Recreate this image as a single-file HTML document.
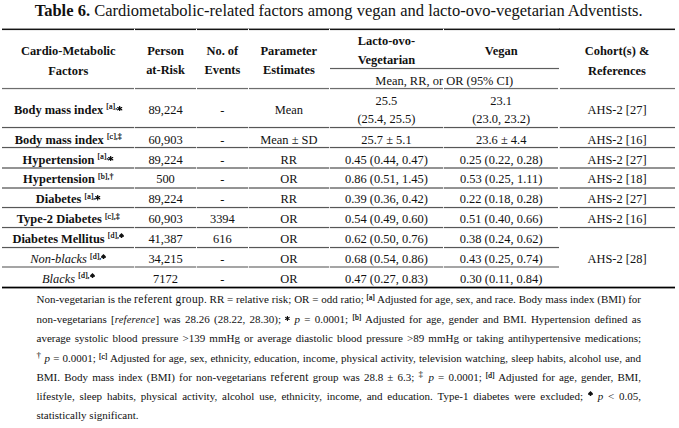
<!DOCTYPE html>
<html><head><meta charset="utf-8"><style>
html,body{margin:0;padding:0;background:#fff;}
body{width:679px;height:428px;position:relative;overflow:hidden;font-family:"Liberation Serif", serif;color:#111;}
.ln{position:absolute;height:1px;}
.t{position:absolute;line-height:20px;white-space:nowrap;}
.sup{font-size:8px;position:relative;top:-4.5px;color:#000;-webkit-text-stroke:0.2px #000;font-weight:normal;font-style:normal;}
.fsup{font-size:7.5px;position:relative;top:-3px;color:#000;-webkit-text-stroke:0.2px #000;}
.fsym{font-size:9px;position:relative;top:-3.5px;color:#000;}
.ref{font-size:11.5px;letter-spacing:0.32px;}
.refi{font-size:10.5px;letter-spacing:0.2px;}
</style></head><body>
<div class="t" style="left:34.70px;top:1.20px;text-align:left;font-size:16.5px;font-weight:normal;font-style:normal;"><b>Table 6.</b> Cardiometabolic-related factors among vegan and lacto-ovo-vegetarian Adventists.</div>
<div class="ln" style="left:2.00px;width:132.10px;top:28px;background:rgba(0,0,0,0.40)"></div>
<div class="ln" style="left:2.00px;width:132.10px;top:29px;background:rgba(0,0,0,0.92)"></div>
<div class="ln" style="left:2.00px;width:132.10px;top:30px;background:rgba(0,0,0,0.08)"></div>
<div class="ln" style="left:134.90px;width:61.20px;top:28px;background:rgba(0,0,0,0.40)"></div>
<div class="ln" style="left:134.90px;width:61.20px;top:29px;background:rgba(0,0,0,0.92)"></div>
<div class="ln" style="left:134.90px;width:61.20px;top:30px;background:rgba(0,0,0,0.08)"></div>
<div class="ln" style="left:196.90px;width:50.90px;top:28px;background:rgba(0,0,0,0.40)"></div>
<div class="ln" style="left:196.90px;width:50.90px;top:29px;background:rgba(0,0,0,0.92)"></div>
<div class="ln" style="left:196.90px;width:50.90px;top:30px;background:rgba(0,0,0,0.08)"></div>
<div class="ln" style="left:248.60px;width:80.50px;top:28px;background:rgba(0,0,0,0.40)"></div>
<div class="ln" style="left:248.60px;width:80.50px;top:29px;background:rgba(0,0,0,0.92)"></div>
<div class="ln" style="left:248.60px;width:80.50px;top:30px;background:rgba(0,0,0,0.08)"></div>
<div class="ln" style="left:329.90px;width:113.10px;top:28px;background:rgba(0,0,0,0.40)"></div>
<div class="ln" style="left:329.90px;width:113.10px;top:29px;background:rgba(0,0,0,0.92)"></div>
<div class="ln" style="left:329.90px;width:113.10px;top:30px;background:rgba(0,0,0,0.08)"></div>
<div class="ln" style="left:443.80px;width:114.80px;top:28px;background:rgba(0,0,0,0.40)"></div>
<div class="ln" style="left:443.80px;width:114.80px;top:29px;background:rgba(0,0,0,0.92)"></div>
<div class="ln" style="left:443.80px;width:114.80px;top:30px;background:rgba(0,0,0,0.08)"></div>
<div class="ln" style="left:559.40px;width:115.60px;top:28px;background:rgba(0,0,0,0.40)"></div>
<div class="ln" style="left:559.40px;width:115.60px;top:29px;background:rgba(0,0,0,0.92)"></div>
<div class="ln" style="left:559.40px;width:115.60px;top:30px;background:rgba(0,0,0,0.08)"></div>
<div class="ln" style="left:134.10px;width:0.80px;top:28px;background:rgba(0,0,0,0.30)"></div>
<div class="ln" style="left:196.10px;width:0.80px;top:28px;background:rgba(0,0,0,0.30)"></div>
<div class="ln" style="left:247.80px;width:0.80px;top:28px;background:rgba(0,0,0,0.30)"></div>
<div class="ln" style="left:329.10px;width:0.80px;top:28px;background:rgba(0,0,0,0.30)"></div>
<div class="ln" style="left:443.00px;width:0.80px;top:28px;background:rgba(0,0,0,0.30)"></div>
<div class="ln" style="left:558.60px;width:0.80px;top:28px;background:rgba(0,0,0,0.30)"></div>
<div class="ln" style="left:330.00px;width:229.00px;top:67px;background:rgba(40,40,40,0.06)"></div>
<div class="ln" style="left:330.00px;width:229.00px;top:68px;background:rgba(40,40,40,0.75)"></div>
<div class="ln" style="left:330.00px;width:229.00px;top:69px;background:rgba(40,40,40,0.08)"></div>
<div class="ln" style="left:2.00px;width:132.00px;top:87px;background:rgba(40,40,40,0.05)"></div>
<div class="ln" style="left:2.00px;width:132.00px;top:88px;background:rgba(40,40,40,0.68)"></div>
<div class="ln" style="left:2.00px;width:132.00px;top:89px;background:rgba(40,40,40,0.10)"></div>
<div class="ln" style="left:135.00px;width:61.00px;top:87px;background:rgba(40,40,40,0.05)"></div>
<div class="ln" style="left:135.00px;width:61.00px;top:88px;background:rgba(40,40,40,0.68)"></div>
<div class="ln" style="left:135.00px;width:61.00px;top:89px;background:rgba(40,40,40,0.10)"></div>
<div class="ln" style="left:197.00px;width:50.70px;top:87px;background:rgba(40,40,40,0.05)"></div>
<div class="ln" style="left:197.00px;width:50.70px;top:88px;background:rgba(40,40,40,0.68)"></div>
<div class="ln" style="left:197.00px;width:50.70px;top:89px;background:rgba(40,40,40,0.10)"></div>
<div class="ln" style="left:248.70px;width:80.30px;top:87px;background:rgba(40,40,40,0.05)"></div>
<div class="ln" style="left:248.70px;width:80.30px;top:88px;background:rgba(40,40,40,0.68)"></div>
<div class="ln" style="left:248.70px;width:80.30px;top:89px;background:rgba(40,40,40,0.10)"></div>
<div class="ln" style="left:330.00px;width:112.90px;top:87px;background:rgba(40,40,40,0.05)"></div>
<div class="ln" style="left:330.00px;width:112.90px;top:88px;background:rgba(40,40,40,0.68)"></div>
<div class="ln" style="left:330.00px;width:112.90px;top:89px;background:rgba(40,40,40,0.10)"></div>
<div class="ln" style="left:443.90px;width:114.60px;top:87px;background:rgba(40,40,40,0.05)"></div>
<div class="ln" style="left:443.90px;width:114.60px;top:88px;background:rgba(40,40,40,0.68)"></div>
<div class="ln" style="left:443.90px;width:114.60px;top:89px;background:rgba(40,40,40,0.10)"></div>
<div class="ln" style="left:559.50px;width:115.50px;top:87px;background:rgba(40,40,40,0.05)"></div>
<div class="ln" style="left:559.50px;width:115.50px;top:88px;background:rgba(40,40,40,0.68)"></div>
<div class="ln" style="left:559.50px;width:115.50px;top:89px;background:rgba(40,40,40,0.10)"></div>
<div class="ln" style="left:2.00px;width:132.00px;top:126px;background:rgba(40,40,40,0.06)"></div>
<div class="ln" style="left:2.00px;width:132.00px;top:127px;background:rgba(40,40,40,0.78)"></div>
<div class="ln" style="left:2.00px;width:132.00px;top:128px;background:rgba(40,40,40,0.10)"></div>
<div class="ln" style="left:135.00px;width:61.00px;top:126px;background:rgba(40,40,40,0.06)"></div>
<div class="ln" style="left:135.00px;width:61.00px;top:127px;background:rgba(40,40,40,0.78)"></div>
<div class="ln" style="left:135.00px;width:61.00px;top:128px;background:rgba(40,40,40,0.10)"></div>
<div class="ln" style="left:197.00px;width:50.70px;top:126px;background:rgba(40,40,40,0.06)"></div>
<div class="ln" style="left:197.00px;width:50.70px;top:127px;background:rgba(40,40,40,0.78)"></div>
<div class="ln" style="left:197.00px;width:50.70px;top:128px;background:rgba(40,40,40,0.10)"></div>
<div class="ln" style="left:248.70px;width:80.30px;top:126px;background:rgba(40,40,40,0.06)"></div>
<div class="ln" style="left:248.70px;width:80.30px;top:127px;background:rgba(40,40,40,0.78)"></div>
<div class="ln" style="left:248.70px;width:80.30px;top:128px;background:rgba(40,40,40,0.10)"></div>
<div class="ln" style="left:330.00px;width:112.90px;top:126px;background:rgba(40,40,40,0.06)"></div>
<div class="ln" style="left:330.00px;width:112.90px;top:127px;background:rgba(40,40,40,0.78)"></div>
<div class="ln" style="left:330.00px;width:112.90px;top:128px;background:rgba(40,40,40,0.10)"></div>
<div class="ln" style="left:443.90px;width:114.60px;top:126px;background:rgba(40,40,40,0.06)"></div>
<div class="ln" style="left:443.90px;width:114.60px;top:127px;background:rgba(40,40,40,0.78)"></div>
<div class="ln" style="left:443.90px;width:114.60px;top:128px;background:rgba(40,40,40,0.10)"></div>
<div class="ln" style="left:559.50px;width:115.50px;top:126px;background:rgba(40,40,40,0.06)"></div>
<div class="ln" style="left:559.50px;width:115.50px;top:127px;background:rgba(40,40,40,0.78)"></div>
<div class="ln" style="left:559.50px;width:115.50px;top:128px;background:rgba(40,40,40,0.10)"></div>
<div class="ln" style="left:134.00px;width:1.00px;top:126px;background:rgba(40,40,40,0.01)"></div>
<div class="ln" style="left:134.00px;width:1.00px;top:127px;background:rgba(40,40,40,0.20)"></div>
<div class="ln" style="left:134.00px;width:1.00px;top:128px;background:rgba(40,40,40,0.03)"></div>
<div class="ln" style="left:196.00px;width:1.00px;top:126px;background:rgba(40,40,40,0.01)"></div>
<div class="ln" style="left:196.00px;width:1.00px;top:127px;background:rgba(40,40,40,0.20)"></div>
<div class="ln" style="left:196.00px;width:1.00px;top:128px;background:rgba(40,40,40,0.03)"></div>
<div class="ln" style="left:247.70px;width:1.00px;top:126px;background:rgba(40,40,40,0.01)"></div>
<div class="ln" style="left:247.70px;width:1.00px;top:127px;background:rgba(40,40,40,0.20)"></div>
<div class="ln" style="left:247.70px;width:1.00px;top:128px;background:rgba(40,40,40,0.03)"></div>
<div class="ln" style="left:329.00px;width:1.00px;top:126px;background:rgba(40,40,40,0.01)"></div>
<div class="ln" style="left:329.00px;width:1.00px;top:127px;background:rgba(40,40,40,0.20)"></div>
<div class="ln" style="left:329.00px;width:1.00px;top:128px;background:rgba(40,40,40,0.03)"></div>
<div class="ln" style="left:442.90px;width:1.00px;top:126px;background:rgba(40,40,40,0.01)"></div>
<div class="ln" style="left:442.90px;width:1.00px;top:127px;background:rgba(40,40,40,0.20)"></div>
<div class="ln" style="left:442.90px;width:1.00px;top:128px;background:rgba(40,40,40,0.03)"></div>
<div class="ln" style="left:558.50px;width:1.00px;top:126px;background:rgba(40,40,40,0.01)"></div>
<div class="ln" style="left:558.50px;width:1.00px;top:127px;background:rgba(40,40,40,0.20)"></div>
<div class="ln" style="left:558.50px;width:1.00px;top:128px;background:rgba(40,40,40,0.03)"></div>
<div class="ln" style="left:2.00px;width:132.00px;top:146px;background:rgba(40,40,40,0.06)"></div>
<div class="ln" style="left:2.00px;width:132.00px;top:147px;background:rgba(40,40,40,0.78)"></div>
<div class="ln" style="left:2.00px;width:132.00px;top:148px;background:rgba(40,40,40,0.10)"></div>
<div class="ln" style="left:135.00px;width:61.00px;top:146px;background:rgba(40,40,40,0.06)"></div>
<div class="ln" style="left:135.00px;width:61.00px;top:147px;background:rgba(40,40,40,0.78)"></div>
<div class="ln" style="left:135.00px;width:61.00px;top:148px;background:rgba(40,40,40,0.10)"></div>
<div class="ln" style="left:197.00px;width:50.70px;top:146px;background:rgba(40,40,40,0.06)"></div>
<div class="ln" style="left:197.00px;width:50.70px;top:147px;background:rgba(40,40,40,0.78)"></div>
<div class="ln" style="left:197.00px;width:50.70px;top:148px;background:rgba(40,40,40,0.10)"></div>
<div class="ln" style="left:248.70px;width:80.30px;top:146px;background:rgba(40,40,40,0.06)"></div>
<div class="ln" style="left:248.70px;width:80.30px;top:147px;background:rgba(40,40,40,0.78)"></div>
<div class="ln" style="left:248.70px;width:80.30px;top:148px;background:rgba(40,40,40,0.10)"></div>
<div class="ln" style="left:330.00px;width:112.90px;top:146px;background:rgba(40,40,40,0.06)"></div>
<div class="ln" style="left:330.00px;width:112.90px;top:147px;background:rgba(40,40,40,0.78)"></div>
<div class="ln" style="left:330.00px;width:112.90px;top:148px;background:rgba(40,40,40,0.10)"></div>
<div class="ln" style="left:443.90px;width:114.60px;top:146px;background:rgba(40,40,40,0.06)"></div>
<div class="ln" style="left:443.90px;width:114.60px;top:147px;background:rgba(40,40,40,0.78)"></div>
<div class="ln" style="left:443.90px;width:114.60px;top:148px;background:rgba(40,40,40,0.10)"></div>
<div class="ln" style="left:559.50px;width:115.50px;top:146px;background:rgba(40,40,40,0.06)"></div>
<div class="ln" style="left:559.50px;width:115.50px;top:147px;background:rgba(40,40,40,0.78)"></div>
<div class="ln" style="left:559.50px;width:115.50px;top:148px;background:rgba(40,40,40,0.10)"></div>
<div class="ln" style="left:134.00px;width:1.00px;top:146px;background:rgba(40,40,40,0.01)"></div>
<div class="ln" style="left:134.00px;width:1.00px;top:147px;background:rgba(40,40,40,0.20)"></div>
<div class="ln" style="left:134.00px;width:1.00px;top:148px;background:rgba(40,40,40,0.03)"></div>
<div class="ln" style="left:196.00px;width:1.00px;top:146px;background:rgba(40,40,40,0.01)"></div>
<div class="ln" style="left:196.00px;width:1.00px;top:147px;background:rgba(40,40,40,0.20)"></div>
<div class="ln" style="left:196.00px;width:1.00px;top:148px;background:rgba(40,40,40,0.03)"></div>
<div class="ln" style="left:247.70px;width:1.00px;top:146px;background:rgba(40,40,40,0.01)"></div>
<div class="ln" style="left:247.70px;width:1.00px;top:147px;background:rgba(40,40,40,0.20)"></div>
<div class="ln" style="left:247.70px;width:1.00px;top:148px;background:rgba(40,40,40,0.03)"></div>
<div class="ln" style="left:329.00px;width:1.00px;top:146px;background:rgba(40,40,40,0.01)"></div>
<div class="ln" style="left:329.00px;width:1.00px;top:147px;background:rgba(40,40,40,0.20)"></div>
<div class="ln" style="left:329.00px;width:1.00px;top:148px;background:rgba(40,40,40,0.03)"></div>
<div class="ln" style="left:442.90px;width:1.00px;top:146px;background:rgba(40,40,40,0.01)"></div>
<div class="ln" style="left:442.90px;width:1.00px;top:147px;background:rgba(40,40,40,0.20)"></div>
<div class="ln" style="left:442.90px;width:1.00px;top:148px;background:rgba(40,40,40,0.03)"></div>
<div class="ln" style="left:558.50px;width:1.00px;top:146px;background:rgba(40,40,40,0.01)"></div>
<div class="ln" style="left:558.50px;width:1.00px;top:147px;background:rgba(40,40,40,0.20)"></div>
<div class="ln" style="left:558.50px;width:1.00px;top:148px;background:rgba(40,40,40,0.03)"></div>
<div class="ln" style="left:2.00px;width:132.00px;top:167px;background:rgba(40,40,40,0.50)"></div>
<div class="ln" style="left:2.00px;width:132.00px;top:168px;background:rgba(40,40,40,0.50)"></div>
<div class="ln" style="left:135.00px;width:61.00px;top:167px;background:rgba(40,40,40,0.50)"></div>
<div class="ln" style="left:135.00px;width:61.00px;top:168px;background:rgba(40,40,40,0.50)"></div>
<div class="ln" style="left:197.00px;width:50.70px;top:167px;background:rgba(40,40,40,0.50)"></div>
<div class="ln" style="left:197.00px;width:50.70px;top:168px;background:rgba(40,40,40,0.50)"></div>
<div class="ln" style="left:248.70px;width:80.30px;top:167px;background:rgba(40,40,40,0.50)"></div>
<div class="ln" style="left:248.70px;width:80.30px;top:168px;background:rgba(40,40,40,0.50)"></div>
<div class="ln" style="left:330.00px;width:112.90px;top:167px;background:rgba(40,40,40,0.50)"></div>
<div class="ln" style="left:330.00px;width:112.90px;top:168px;background:rgba(40,40,40,0.50)"></div>
<div class="ln" style="left:443.90px;width:114.60px;top:167px;background:rgba(40,40,40,0.50)"></div>
<div class="ln" style="left:443.90px;width:114.60px;top:168px;background:rgba(40,40,40,0.50)"></div>
<div class="ln" style="left:559.50px;width:115.50px;top:167px;background:rgba(40,40,40,0.50)"></div>
<div class="ln" style="left:559.50px;width:115.50px;top:168px;background:rgba(40,40,40,0.50)"></div>
<div class="ln" style="left:134.00px;width:1.00px;top:167px;background:rgba(40,40,40,0.12)"></div>
<div class="ln" style="left:134.00px;width:1.00px;top:168px;background:rgba(40,40,40,0.12)"></div>
<div class="ln" style="left:196.00px;width:1.00px;top:167px;background:rgba(40,40,40,0.12)"></div>
<div class="ln" style="left:196.00px;width:1.00px;top:168px;background:rgba(40,40,40,0.12)"></div>
<div class="ln" style="left:247.70px;width:1.00px;top:167px;background:rgba(40,40,40,0.12)"></div>
<div class="ln" style="left:247.70px;width:1.00px;top:168px;background:rgba(40,40,40,0.12)"></div>
<div class="ln" style="left:329.00px;width:1.00px;top:167px;background:rgba(40,40,40,0.12)"></div>
<div class="ln" style="left:329.00px;width:1.00px;top:168px;background:rgba(40,40,40,0.12)"></div>
<div class="ln" style="left:442.90px;width:1.00px;top:167px;background:rgba(40,40,40,0.12)"></div>
<div class="ln" style="left:442.90px;width:1.00px;top:168px;background:rgba(40,40,40,0.12)"></div>
<div class="ln" style="left:558.50px;width:1.00px;top:167px;background:rgba(40,40,40,0.12)"></div>
<div class="ln" style="left:558.50px;width:1.00px;top:168px;background:rgba(40,40,40,0.12)"></div>
<div class="ln" style="left:2.00px;width:132.00px;top:187px;background:rgba(40,40,40,0.50)"></div>
<div class="ln" style="left:2.00px;width:132.00px;top:188px;background:rgba(40,40,40,0.50)"></div>
<div class="ln" style="left:135.00px;width:61.00px;top:187px;background:rgba(40,40,40,0.50)"></div>
<div class="ln" style="left:135.00px;width:61.00px;top:188px;background:rgba(40,40,40,0.50)"></div>
<div class="ln" style="left:197.00px;width:50.70px;top:187px;background:rgba(40,40,40,0.50)"></div>
<div class="ln" style="left:197.00px;width:50.70px;top:188px;background:rgba(40,40,40,0.50)"></div>
<div class="ln" style="left:248.70px;width:80.30px;top:187px;background:rgba(40,40,40,0.50)"></div>
<div class="ln" style="left:248.70px;width:80.30px;top:188px;background:rgba(40,40,40,0.50)"></div>
<div class="ln" style="left:330.00px;width:112.90px;top:187px;background:rgba(40,40,40,0.50)"></div>
<div class="ln" style="left:330.00px;width:112.90px;top:188px;background:rgba(40,40,40,0.50)"></div>
<div class="ln" style="left:443.90px;width:114.60px;top:187px;background:rgba(40,40,40,0.50)"></div>
<div class="ln" style="left:443.90px;width:114.60px;top:188px;background:rgba(40,40,40,0.50)"></div>
<div class="ln" style="left:559.50px;width:115.50px;top:187px;background:rgba(40,40,40,0.50)"></div>
<div class="ln" style="left:559.50px;width:115.50px;top:188px;background:rgba(40,40,40,0.50)"></div>
<div class="ln" style="left:134.00px;width:1.00px;top:187px;background:rgba(40,40,40,0.12)"></div>
<div class="ln" style="left:134.00px;width:1.00px;top:188px;background:rgba(40,40,40,0.12)"></div>
<div class="ln" style="left:196.00px;width:1.00px;top:187px;background:rgba(40,40,40,0.12)"></div>
<div class="ln" style="left:196.00px;width:1.00px;top:188px;background:rgba(40,40,40,0.12)"></div>
<div class="ln" style="left:247.70px;width:1.00px;top:187px;background:rgba(40,40,40,0.12)"></div>
<div class="ln" style="left:247.70px;width:1.00px;top:188px;background:rgba(40,40,40,0.12)"></div>
<div class="ln" style="left:329.00px;width:1.00px;top:187px;background:rgba(40,40,40,0.12)"></div>
<div class="ln" style="left:329.00px;width:1.00px;top:188px;background:rgba(40,40,40,0.12)"></div>
<div class="ln" style="left:442.90px;width:1.00px;top:187px;background:rgba(40,40,40,0.12)"></div>
<div class="ln" style="left:442.90px;width:1.00px;top:188px;background:rgba(40,40,40,0.12)"></div>
<div class="ln" style="left:558.50px;width:1.00px;top:187px;background:rgba(40,40,40,0.12)"></div>
<div class="ln" style="left:558.50px;width:1.00px;top:188px;background:rgba(40,40,40,0.12)"></div>
<div class="ln" style="left:2.00px;width:132.00px;top:206px;background:rgba(40,40,40,0.06)"></div>
<div class="ln" style="left:2.00px;width:132.00px;top:207px;background:rgba(40,40,40,0.78)"></div>
<div class="ln" style="left:2.00px;width:132.00px;top:208px;background:rgba(40,40,40,0.10)"></div>
<div class="ln" style="left:135.00px;width:61.00px;top:206px;background:rgba(40,40,40,0.06)"></div>
<div class="ln" style="left:135.00px;width:61.00px;top:207px;background:rgba(40,40,40,0.78)"></div>
<div class="ln" style="left:135.00px;width:61.00px;top:208px;background:rgba(40,40,40,0.10)"></div>
<div class="ln" style="left:197.00px;width:50.70px;top:206px;background:rgba(40,40,40,0.06)"></div>
<div class="ln" style="left:197.00px;width:50.70px;top:207px;background:rgba(40,40,40,0.78)"></div>
<div class="ln" style="left:197.00px;width:50.70px;top:208px;background:rgba(40,40,40,0.10)"></div>
<div class="ln" style="left:248.70px;width:80.30px;top:206px;background:rgba(40,40,40,0.06)"></div>
<div class="ln" style="left:248.70px;width:80.30px;top:207px;background:rgba(40,40,40,0.78)"></div>
<div class="ln" style="left:248.70px;width:80.30px;top:208px;background:rgba(40,40,40,0.10)"></div>
<div class="ln" style="left:330.00px;width:112.90px;top:206px;background:rgba(40,40,40,0.06)"></div>
<div class="ln" style="left:330.00px;width:112.90px;top:207px;background:rgba(40,40,40,0.78)"></div>
<div class="ln" style="left:330.00px;width:112.90px;top:208px;background:rgba(40,40,40,0.10)"></div>
<div class="ln" style="left:443.90px;width:114.60px;top:206px;background:rgba(40,40,40,0.06)"></div>
<div class="ln" style="left:443.90px;width:114.60px;top:207px;background:rgba(40,40,40,0.78)"></div>
<div class="ln" style="left:443.90px;width:114.60px;top:208px;background:rgba(40,40,40,0.10)"></div>
<div class="ln" style="left:559.50px;width:115.50px;top:206px;background:rgba(40,40,40,0.06)"></div>
<div class="ln" style="left:559.50px;width:115.50px;top:207px;background:rgba(40,40,40,0.78)"></div>
<div class="ln" style="left:559.50px;width:115.50px;top:208px;background:rgba(40,40,40,0.10)"></div>
<div class="ln" style="left:134.00px;width:1.00px;top:206px;background:rgba(40,40,40,0.01)"></div>
<div class="ln" style="left:134.00px;width:1.00px;top:207px;background:rgba(40,40,40,0.20)"></div>
<div class="ln" style="left:134.00px;width:1.00px;top:208px;background:rgba(40,40,40,0.03)"></div>
<div class="ln" style="left:196.00px;width:1.00px;top:206px;background:rgba(40,40,40,0.01)"></div>
<div class="ln" style="left:196.00px;width:1.00px;top:207px;background:rgba(40,40,40,0.20)"></div>
<div class="ln" style="left:196.00px;width:1.00px;top:208px;background:rgba(40,40,40,0.03)"></div>
<div class="ln" style="left:247.70px;width:1.00px;top:206px;background:rgba(40,40,40,0.01)"></div>
<div class="ln" style="left:247.70px;width:1.00px;top:207px;background:rgba(40,40,40,0.20)"></div>
<div class="ln" style="left:247.70px;width:1.00px;top:208px;background:rgba(40,40,40,0.03)"></div>
<div class="ln" style="left:329.00px;width:1.00px;top:206px;background:rgba(40,40,40,0.01)"></div>
<div class="ln" style="left:329.00px;width:1.00px;top:207px;background:rgba(40,40,40,0.20)"></div>
<div class="ln" style="left:329.00px;width:1.00px;top:208px;background:rgba(40,40,40,0.03)"></div>
<div class="ln" style="left:442.90px;width:1.00px;top:206px;background:rgba(40,40,40,0.01)"></div>
<div class="ln" style="left:442.90px;width:1.00px;top:207px;background:rgba(40,40,40,0.20)"></div>
<div class="ln" style="left:442.90px;width:1.00px;top:208px;background:rgba(40,40,40,0.03)"></div>
<div class="ln" style="left:558.50px;width:1.00px;top:206px;background:rgba(40,40,40,0.01)"></div>
<div class="ln" style="left:558.50px;width:1.00px;top:207px;background:rgba(40,40,40,0.20)"></div>
<div class="ln" style="left:558.50px;width:1.00px;top:208px;background:rgba(40,40,40,0.03)"></div>
<div class="ln" style="left:2.00px;width:132.00px;top:226px;background:rgba(40,40,40,0.06)"></div>
<div class="ln" style="left:2.00px;width:132.00px;top:227px;background:rgba(40,40,40,0.78)"></div>
<div class="ln" style="left:2.00px;width:132.00px;top:228px;background:rgba(40,40,40,0.10)"></div>
<div class="ln" style="left:135.00px;width:61.00px;top:226px;background:rgba(40,40,40,0.06)"></div>
<div class="ln" style="left:135.00px;width:61.00px;top:227px;background:rgba(40,40,40,0.78)"></div>
<div class="ln" style="left:135.00px;width:61.00px;top:228px;background:rgba(40,40,40,0.10)"></div>
<div class="ln" style="left:197.00px;width:50.70px;top:226px;background:rgba(40,40,40,0.06)"></div>
<div class="ln" style="left:197.00px;width:50.70px;top:227px;background:rgba(40,40,40,0.78)"></div>
<div class="ln" style="left:197.00px;width:50.70px;top:228px;background:rgba(40,40,40,0.10)"></div>
<div class="ln" style="left:248.70px;width:80.30px;top:226px;background:rgba(40,40,40,0.06)"></div>
<div class="ln" style="left:248.70px;width:80.30px;top:227px;background:rgba(40,40,40,0.78)"></div>
<div class="ln" style="left:248.70px;width:80.30px;top:228px;background:rgba(40,40,40,0.10)"></div>
<div class="ln" style="left:330.00px;width:112.90px;top:226px;background:rgba(40,40,40,0.06)"></div>
<div class="ln" style="left:330.00px;width:112.90px;top:227px;background:rgba(40,40,40,0.78)"></div>
<div class="ln" style="left:330.00px;width:112.90px;top:228px;background:rgba(40,40,40,0.10)"></div>
<div class="ln" style="left:443.90px;width:114.60px;top:226px;background:rgba(40,40,40,0.06)"></div>
<div class="ln" style="left:443.90px;width:114.60px;top:227px;background:rgba(40,40,40,0.78)"></div>
<div class="ln" style="left:443.90px;width:114.60px;top:228px;background:rgba(40,40,40,0.10)"></div>
<div class="ln" style="left:559.50px;width:115.50px;top:226px;background:rgba(40,40,40,0.06)"></div>
<div class="ln" style="left:559.50px;width:115.50px;top:227px;background:rgba(40,40,40,0.78)"></div>
<div class="ln" style="left:559.50px;width:115.50px;top:228px;background:rgba(40,40,40,0.10)"></div>
<div class="ln" style="left:134.00px;width:1.00px;top:226px;background:rgba(40,40,40,0.01)"></div>
<div class="ln" style="left:134.00px;width:1.00px;top:227px;background:rgba(40,40,40,0.20)"></div>
<div class="ln" style="left:134.00px;width:1.00px;top:228px;background:rgba(40,40,40,0.03)"></div>
<div class="ln" style="left:196.00px;width:1.00px;top:226px;background:rgba(40,40,40,0.01)"></div>
<div class="ln" style="left:196.00px;width:1.00px;top:227px;background:rgba(40,40,40,0.20)"></div>
<div class="ln" style="left:196.00px;width:1.00px;top:228px;background:rgba(40,40,40,0.03)"></div>
<div class="ln" style="left:247.70px;width:1.00px;top:226px;background:rgba(40,40,40,0.01)"></div>
<div class="ln" style="left:247.70px;width:1.00px;top:227px;background:rgba(40,40,40,0.20)"></div>
<div class="ln" style="left:247.70px;width:1.00px;top:228px;background:rgba(40,40,40,0.03)"></div>
<div class="ln" style="left:329.00px;width:1.00px;top:226px;background:rgba(40,40,40,0.01)"></div>
<div class="ln" style="left:329.00px;width:1.00px;top:227px;background:rgba(40,40,40,0.20)"></div>
<div class="ln" style="left:329.00px;width:1.00px;top:228px;background:rgba(40,40,40,0.03)"></div>
<div class="ln" style="left:442.90px;width:1.00px;top:226px;background:rgba(40,40,40,0.01)"></div>
<div class="ln" style="left:442.90px;width:1.00px;top:227px;background:rgba(40,40,40,0.20)"></div>
<div class="ln" style="left:442.90px;width:1.00px;top:228px;background:rgba(40,40,40,0.03)"></div>
<div class="ln" style="left:558.50px;width:1.00px;top:226px;background:rgba(40,40,40,0.01)"></div>
<div class="ln" style="left:558.50px;width:1.00px;top:227px;background:rgba(40,40,40,0.20)"></div>
<div class="ln" style="left:558.50px;width:1.00px;top:228px;background:rgba(40,40,40,0.03)"></div>
<div class="ln" style="left:2.00px;width:132.00px;top:246px;background:rgba(40,40,40,0.06)"></div>
<div class="ln" style="left:2.00px;width:132.00px;top:247px;background:rgba(40,40,40,0.78)"></div>
<div class="ln" style="left:2.00px;width:132.00px;top:248px;background:rgba(40,40,40,0.10)"></div>
<div class="ln" style="left:135.00px;width:61.00px;top:246px;background:rgba(40,40,40,0.06)"></div>
<div class="ln" style="left:135.00px;width:61.00px;top:247px;background:rgba(40,40,40,0.78)"></div>
<div class="ln" style="left:135.00px;width:61.00px;top:248px;background:rgba(40,40,40,0.10)"></div>
<div class="ln" style="left:197.00px;width:50.70px;top:246px;background:rgba(40,40,40,0.06)"></div>
<div class="ln" style="left:197.00px;width:50.70px;top:247px;background:rgba(40,40,40,0.78)"></div>
<div class="ln" style="left:197.00px;width:50.70px;top:248px;background:rgba(40,40,40,0.10)"></div>
<div class="ln" style="left:248.70px;width:80.30px;top:246px;background:rgba(40,40,40,0.06)"></div>
<div class="ln" style="left:248.70px;width:80.30px;top:247px;background:rgba(40,40,40,0.78)"></div>
<div class="ln" style="left:248.70px;width:80.30px;top:248px;background:rgba(40,40,40,0.10)"></div>
<div class="ln" style="left:330.00px;width:112.90px;top:246px;background:rgba(40,40,40,0.06)"></div>
<div class="ln" style="left:330.00px;width:112.90px;top:247px;background:rgba(40,40,40,0.78)"></div>
<div class="ln" style="left:330.00px;width:112.90px;top:248px;background:rgba(40,40,40,0.10)"></div>
<div class="ln" style="left:443.90px;width:115.10px;top:246px;background:rgba(40,40,40,0.06)"></div>
<div class="ln" style="left:443.90px;width:115.10px;top:247px;background:rgba(40,40,40,0.78)"></div>
<div class="ln" style="left:443.90px;width:115.10px;top:248px;background:rgba(40,40,40,0.10)"></div>
<div class="ln" style="left:2.00px;width:132.00px;top:266px;background:rgba(40,40,40,0.42)"></div>
<div class="ln" style="left:2.00px;width:132.00px;top:267px;background:rgba(40,40,40,0.42)"></div>
<div class="ln" style="left:135.00px;width:61.00px;top:266px;background:rgba(40,40,40,0.42)"></div>
<div class="ln" style="left:135.00px;width:61.00px;top:267px;background:rgba(40,40,40,0.42)"></div>
<div class="ln" style="left:197.00px;width:50.70px;top:266px;background:rgba(40,40,40,0.42)"></div>
<div class="ln" style="left:197.00px;width:50.70px;top:267px;background:rgba(40,40,40,0.42)"></div>
<div class="ln" style="left:248.70px;width:80.30px;top:266px;background:rgba(40,40,40,0.42)"></div>
<div class="ln" style="left:248.70px;width:80.30px;top:267px;background:rgba(40,40,40,0.42)"></div>
<div class="ln" style="left:330.00px;width:112.90px;top:266px;background:rgba(40,40,40,0.42)"></div>
<div class="ln" style="left:330.00px;width:112.90px;top:267px;background:rgba(40,40,40,0.42)"></div>
<div class="ln" style="left:443.90px;width:115.10px;top:266px;background:rgba(40,40,40,0.42)"></div>
<div class="ln" style="left:443.90px;width:115.10px;top:267px;background:rgba(40,40,40,0.42)"></div>
<div class="ln" style="left:134.00px;width:1.00px;top:266px;background:rgba(40,40,40,0.10)"></div>
<div class="ln" style="left:134.00px;width:1.00px;top:267px;background:rgba(40,40,40,0.10)"></div>
<div class="ln" style="left:196.00px;width:1.00px;top:266px;background:rgba(40,40,40,0.10)"></div>
<div class="ln" style="left:196.00px;width:1.00px;top:267px;background:rgba(40,40,40,0.10)"></div>
<div class="ln" style="left:247.70px;width:1.00px;top:266px;background:rgba(40,40,40,0.10)"></div>
<div class="ln" style="left:247.70px;width:1.00px;top:267px;background:rgba(40,40,40,0.10)"></div>
<div class="ln" style="left:329.00px;width:1.00px;top:266px;background:rgba(40,40,40,0.10)"></div>
<div class="ln" style="left:329.00px;width:1.00px;top:267px;background:rgba(40,40,40,0.10)"></div>
<div class="ln" style="left:442.90px;width:1.00px;top:266px;background:rgba(40,40,40,0.10)"></div>
<div class="ln" style="left:442.90px;width:1.00px;top:267px;background:rgba(40,40,40,0.10)"></div>
<div class="ln" style="left:1.50px;width:673.30px;top:286px;background:rgba(0,0,0,0.35)"></div>
<div class="ln" style="left:1.50px;width:673.30px;top:287px;background:rgba(0,0,0,1.00)"></div>
<div class="ln" style="left:1.50px;width:673.30px;top:288px;background:rgba(0,0,0,0.40)"></div>
<div class="t" style="left:2.00px;top:41.00px;width:132.50px;text-align:center;font-size:12.45px;font-weight:normal;font-style:normal;"><b>Cardio-Metabolic</b></div>
<div class="t" style="left:2.00px;top:60.60px;width:132.50px;text-align:center;font-size:12.45px;font-weight:normal;font-style:normal;"><b>Factors</b></div>
<div class="t" style="left:134.50px;top:40.80px;width:62.00px;text-align:center;font-size:12.45px;font-weight:normal;font-style:normal;"><b>Person</b></div>
<div class="t" style="left:134.50px;top:60.30px;width:62.00px;text-align:center;font-size:12.45px;font-weight:normal;font-style:normal;"><b>at-Risk</b></div>
<div class="t" style="left:196.50px;top:40.80px;width:51.70px;text-align:center;font-size:12.45px;font-weight:normal;font-style:normal;"><b>No. of</b></div>
<div class="t" style="left:196.50px;top:60.30px;width:51.70px;text-align:center;font-size:12.45px;font-weight:normal;font-style:normal;"><b>Events</b></div>
<div class="t" style="left:248.20px;top:40.70px;width:81.30px;text-align:center;font-size:12.45px;font-weight:normal;font-style:normal;"><b>Parameter</b></div>
<div class="t" style="left:248.20px;top:60.30px;width:81.30px;text-align:center;font-size:12.45px;font-weight:normal;font-style:normal;"><b>Estimates</b></div>
<div class="t" style="left:329.50px;top:31.00px;width:113.90px;text-align:center;font-size:12.45px;font-weight:normal;font-style:normal;"><b>Lacto-ovo-</b></div>
<div class="t" style="left:329.50px;top:50.10px;width:113.90px;text-align:center;font-size:12.45px;font-weight:normal;font-style:normal;"><b>Vegetarian</b></div>
<div class="t" style="left:443.40px;top:40.70px;width:115.60px;text-align:center;font-size:12.45px;font-weight:normal;font-style:normal;"><b>Vegan</b></div>
<div class="t" style="left:559.00px;top:41.00px;width:116.00px;text-align:center;font-size:12.45px;font-weight:normal;font-style:normal;"><b>Cohort(s) &amp;</b></div>
<div class="t" style="left:559.00px;top:60.80px;width:116.00px;text-align:center;font-size:12.45px;font-weight:normal;font-style:normal;"><b>References</b></div>
<div class="t" style="left:329.50px;top:70.90px;width:229.50px;text-align:center;font-size:12.45px;font-weight:normal;font-style:normal;">Mean, RR, or OR (95% CI)</div>
<div class="t" style="left:2.00px;top:99.80px;width:132.50px;text-align:center;font-size:12.45px;font-weight:normal;font-style:normal;"><b>Body mass index</b> <span class="sup">[a],<svg width="5.4" height="5.4" viewBox="0 0 6 6" style="vertical-align:-2px"><g stroke="#000" stroke-width="1.3" stroke-linecap="round"><line x1="3" y1="0.4" x2="3" y2="5.6"/><line x1="0.75" y1="1.7" x2="5.25" y2="4.3"/><line x1="0.75" y1="4.3" x2="5.25" y2="1.7"/></g></svg></span></div>
<div class="t" style="left:134.50px;top:99.80px;width:62.00px;text-align:center;font-size:12.45px;font-weight:normal;font-style:normal;">89,224</div>
<div class="t" style="left:196.50px;top:100.80px;width:51.70px;text-align:center;font-size:12.45px;font-weight:normal;font-style:normal;">-</div>
<div class="t" style="left:248.20px;top:99.80px;width:81.30px;text-align:center;font-size:12.45px;font-weight:normal;font-style:normal;">Mean</div>
<div class="t" style="left:559.00px;top:99.80px;width:116.00px;text-align:center;font-size:12.45px;font-weight:normal;font-style:normal;">AHS-2 [27]</div>
<div class="t" style="left:2.00px;top:129.70px;width:132.50px;text-align:center;font-size:12.45px;font-weight:normal;font-style:normal;"><b>Body mass index</b> <span class="sup">[c],&#8225;</span></div>
<div class="t" style="left:134.50px;top:129.70px;width:62.00px;text-align:center;font-size:12.45px;font-weight:normal;font-style:normal;">60,903</div>
<div class="t" style="left:196.50px;top:130.70px;width:51.70px;text-align:center;font-size:12.45px;font-weight:normal;font-style:normal;">-</div>
<div class="t" style="left:248.20px;top:129.70px;width:81.30px;text-align:center;font-size:12.45px;font-weight:normal;font-style:normal;">Mean &plusmn; SD</div>
<div class="t" style="left:329.50px;top:129.70px;width:113.90px;text-align:center;font-size:12.45px;font-weight:normal;font-style:normal;">25.7 &plusmn; 5.1</div>
<div class="t" style="left:443.40px;top:129.70px;width:115.60px;text-align:center;font-size:12.45px;font-weight:normal;font-style:normal;">23.6 &plusmn; 4.4</div>
<div class="t" style="left:559.00px;top:129.70px;width:116.00px;text-align:center;font-size:12.45px;font-weight:normal;font-style:normal;">AHS-2 [16]</div>
<div class="t" style="left:2.00px;top:149.60px;width:132.50px;text-align:center;font-size:12.45px;font-weight:normal;font-style:normal;"><b>Hypertension</b> <span class="sup">[a],<svg width="5.4" height="5.4" viewBox="0 0 6 6" style="vertical-align:-2px"><g stroke="#000" stroke-width="1.3" stroke-linecap="round"><line x1="3" y1="0.4" x2="3" y2="5.6"/><line x1="0.75" y1="1.7" x2="5.25" y2="4.3"/><line x1="0.75" y1="4.3" x2="5.25" y2="1.7"/></g></svg></span></div>
<div class="t" style="left:134.50px;top:149.60px;width:62.00px;text-align:center;font-size:12.45px;font-weight:normal;font-style:normal;">89,224</div>
<div class="t" style="left:196.50px;top:150.60px;width:51.70px;text-align:center;font-size:12.45px;font-weight:normal;font-style:normal;">-</div>
<div class="t" style="left:248.20px;top:149.60px;width:81.30px;text-align:center;font-size:12.45px;font-weight:normal;font-style:normal;">RR</div>
<div class="t" style="left:329.50px;top:149.60px;width:113.90px;text-align:center;font-size:12.45px;font-weight:normal;font-style:normal;">0.45 (0.44, 0.47)</div>
<div class="t" style="left:443.40px;top:149.60px;width:115.60px;text-align:center;font-size:12.45px;font-weight:normal;font-style:normal;">0.25 (0.22, 0.28)</div>
<div class="t" style="left:559.00px;top:149.60px;width:116.00px;text-align:center;font-size:12.45px;font-weight:normal;font-style:normal;">AHS-2 [27]</div>
<div class="t" style="left:2.00px;top:169.20px;width:132.50px;text-align:center;font-size:12.45px;font-weight:normal;font-style:normal;"><b>Hypertension</b> <span class="sup">[b],&#8224;</span></div>
<div class="t" style="left:134.50px;top:169.20px;width:62.00px;text-align:center;font-size:12.45px;font-weight:normal;font-style:normal;">500</div>
<div class="t" style="left:196.50px;top:170.20px;width:51.70px;text-align:center;font-size:12.45px;font-weight:normal;font-style:normal;">-</div>
<div class="t" style="left:248.20px;top:169.20px;width:81.30px;text-align:center;font-size:12.45px;font-weight:normal;font-style:normal;">OR</div>
<div class="t" style="left:329.50px;top:169.20px;width:113.90px;text-align:center;font-size:12.45px;font-weight:normal;font-style:normal;">0.86 (0.51, 1.45)</div>
<div class="t" style="left:443.40px;top:169.20px;width:115.60px;text-align:center;font-size:12.45px;font-weight:normal;font-style:normal;">0.53 (0.25, 1.11)</div>
<div class="t" style="left:559.00px;top:169.20px;width:116.00px;text-align:center;font-size:12.45px;font-weight:normal;font-style:normal;">AHS-2 [18]</div>
<div class="t" style="left:2.00px;top:189.20px;width:132.50px;text-align:center;font-size:12.45px;font-weight:normal;font-style:normal;"><b>Diabetes</b> <span class="sup">[a],<svg width="5.4" height="5.4" viewBox="0 0 6 6" style="vertical-align:-2px"><g stroke="#000" stroke-width="1.3" stroke-linecap="round"><line x1="3" y1="0.4" x2="3" y2="5.6"/><line x1="0.75" y1="1.7" x2="5.25" y2="4.3"/><line x1="0.75" y1="4.3" x2="5.25" y2="1.7"/></g></svg></span></div>
<div class="t" style="left:134.50px;top:189.20px;width:62.00px;text-align:center;font-size:12.45px;font-weight:normal;font-style:normal;">89,224</div>
<div class="t" style="left:196.50px;top:190.20px;width:51.70px;text-align:center;font-size:12.45px;font-weight:normal;font-style:normal;">-</div>
<div class="t" style="left:248.20px;top:189.20px;width:81.30px;text-align:center;font-size:12.45px;font-weight:normal;font-style:normal;">RR</div>
<div class="t" style="left:329.50px;top:189.20px;width:113.90px;text-align:center;font-size:12.45px;font-weight:normal;font-style:normal;">0.39 (0.36, 0.42)</div>
<div class="t" style="left:443.40px;top:189.20px;width:115.60px;text-align:center;font-size:12.45px;font-weight:normal;font-style:normal;">0.22 (0.18, 0.28)</div>
<div class="t" style="left:559.00px;top:189.20px;width:116.00px;text-align:center;font-size:12.45px;font-weight:normal;font-style:normal;">AHS-2 [27]</div>
<div class="t" style="left:2.00px;top:209.00px;width:132.50px;text-align:center;font-size:12.45px;font-weight:normal;font-style:normal;"><b>Type-2 Diabetes</b> <span class="sup">[c],&#8225;</span></div>
<div class="t" style="left:134.50px;top:209.00px;width:62.00px;text-align:center;font-size:12.45px;font-weight:normal;font-style:normal;">60,903</div>
<div class="t" style="left:196.50px;top:209.00px;width:51.70px;text-align:center;font-size:12.45px;font-weight:normal;font-style:normal;">3394</div>
<div class="t" style="left:248.20px;top:209.00px;width:81.30px;text-align:center;font-size:12.45px;font-weight:normal;font-style:normal;">OR</div>
<div class="t" style="left:329.50px;top:209.00px;width:113.90px;text-align:center;font-size:12.45px;font-weight:normal;font-style:normal;">0.54 (0.49, 0.60)</div>
<div class="t" style="left:443.40px;top:209.00px;width:115.60px;text-align:center;font-size:12.45px;font-weight:normal;font-style:normal;">0.51 (0.40, 0.66)</div>
<div class="t" style="left:559.00px;top:209.00px;width:116.00px;text-align:center;font-size:12.45px;font-weight:normal;font-style:normal;">AHS-2 [16]</div>
<div class="t" style="left:2.00px;top:228.90px;width:132.50px;text-align:center;font-size:12.45px;font-weight:normal;font-style:normal;"><b>Diabetes Mellitus</b> <span class="sup">[d],<svg width="5" height="5" viewBox="0 0 10 10" style="vertical-align:0px"><path d="M5 0 C6.5 2 10 4 10 6.2 C10 8 8 8.6 6 7.4 L7 10 L3 10 L4 7.4 C2 8.6 0 8 0 6.2 C0 4 3.5 2 5 0Z" fill="#111"/></svg></span></div>
<div class="t" style="left:134.50px;top:228.90px;width:62.00px;text-align:center;font-size:12.45px;font-weight:normal;font-style:normal;">41,387</div>
<div class="t" style="left:196.50px;top:228.90px;width:51.70px;text-align:center;font-size:12.45px;font-weight:normal;font-style:normal;">616</div>
<div class="t" style="left:248.20px;top:228.90px;width:81.30px;text-align:center;font-size:12.45px;font-weight:normal;font-style:normal;">OR</div>
<div class="t" style="left:329.50px;top:228.90px;width:113.90px;text-align:center;font-size:12.45px;font-weight:normal;font-style:normal;">0.62 (0.50, 0.76)</div>
<div class="t" style="left:443.40px;top:228.90px;width:115.60px;text-align:center;font-size:12.45px;font-weight:normal;font-style:normal;">0.38 (0.24, 0.62)</div>
<div class="t" style="left:2.00px;top:249.00px;width:132.50px;text-align:center;font-size:12.45px;font-weight:normal;font-style:normal;"><i>Non-blacks</i> <span class="sup">[d],<svg width="5" height="5" viewBox="0 0 10 10" style="vertical-align:0px"><path d="M5 0 C6.5 2 10 4 10 6.2 C10 8 8 8.6 6 7.4 L7 10 L3 10 L4 7.4 C2 8.6 0 8 0 6.2 C0 4 3.5 2 5 0Z" fill="#111"/></svg></span></div>
<div class="t" style="left:134.50px;top:249.00px;width:62.00px;text-align:center;font-size:12.45px;font-weight:normal;font-style:normal;">34,215</div>
<div class="t" style="left:196.50px;top:250.00px;width:51.70px;text-align:center;font-size:12.45px;font-weight:normal;font-style:normal;">-</div>
<div class="t" style="left:248.20px;top:249.00px;width:81.30px;text-align:center;font-size:12.45px;font-weight:normal;font-style:normal;">OR</div>
<div class="t" style="left:329.50px;top:249.00px;width:113.90px;text-align:center;font-size:12.45px;font-weight:normal;font-style:normal;">0.68 (0.54, 0.86)</div>
<div class="t" style="left:443.40px;top:249.00px;width:115.60px;text-align:center;font-size:12.45px;font-weight:normal;font-style:normal;">0.43 (0.25, 0.74)</div>
<div class="t" style="left:2.00px;top:268.90px;width:132.50px;text-align:center;font-size:12.45px;font-weight:normal;font-style:normal;"><i>Blacks</i> <span class="sup">[d],<svg width="5" height="5" viewBox="0 0 10 10" style="vertical-align:0px"><path d="M5 0 C6.5 2 10 4 10 6.2 C10 8 8 8.6 6 7.4 L7 10 L3 10 L4 7.4 C2 8.6 0 8 0 6.2 C0 4 3.5 2 5 0Z" fill="#111"/></svg></span></div>
<div class="t" style="left:134.50px;top:268.90px;width:62.00px;text-align:center;font-size:12.45px;font-weight:normal;font-style:normal;">7172</div>
<div class="t" style="left:196.50px;top:269.90px;width:51.70px;text-align:center;font-size:12.45px;font-weight:normal;font-style:normal;">-</div>
<div class="t" style="left:248.20px;top:268.90px;width:81.30px;text-align:center;font-size:12.45px;font-weight:normal;font-style:normal;">OR</div>
<div class="t" style="left:329.50px;top:268.90px;width:113.90px;text-align:center;font-size:12.45px;font-weight:normal;font-style:normal;">0.47 (0.27, 0.83)</div>
<div class="t" style="left:443.40px;top:268.90px;width:115.60px;text-align:center;font-size:12.45px;font-weight:normal;font-style:normal;">0.30 (0.11, 0.84)</div>
<div class="t" style="left:329.50px;top:90.70px;width:113.90px;text-align:center;font-size:12.45px;font-weight:normal;font-style:normal;">25.5</div>
<div class="t" style="left:329.50px;top:108.90px;width:113.90px;text-align:center;font-size:12.45px;font-weight:normal;font-style:normal;">(25.4, 25.5)</div>
<div class="t" style="left:443.40px;top:90.70px;width:115.60px;text-align:center;font-size:12.45px;font-weight:normal;font-style:normal;">23.1</div>
<div class="t" style="left:443.40px;top:108.90px;width:115.60px;text-align:center;font-size:12.45px;font-weight:normal;font-style:normal;">(23.0, 23.2)</div>
<div class="t" style="left:559.00px;top:249.30px;width:116.00px;text-align:center;font-size:12.45px;font-weight:normal;font-style:normal;">AHS-2 [28]</div>
<div class="t" style="left:36.50px;top:289.20px;width:604.50px;text-align:justify;font-size:11px;font-weight:normal;font-style:normal;text-align-last:justify;">Non-vegetarian is the <span class="ref">referent group</span>. RR = relative risk; OR = odd ratio; <span class="fsup">[a]</span> Adjusted for age, sex, and race. Body mass index (BMI) for</div>
<div class="t" style="left:36.50px;top:308.60px;width:604.50px;text-align:justify;font-size:11px;font-weight:normal;font-style:normal;text-align-last:justify;">non-vegetarians [<i class="refi">reference</i>] was 28.26 (28.22, 28.30); <svg width="4.8" height="4.8" viewBox="0 0 6 6" style="vertical-align:2px"><g stroke="#000" stroke-width="1.3" stroke-linecap="round"><line x1="3" y1="0.4" x2="3" y2="5.6"/><line x1="0.75" y1="1.7" x2="5.25" y2="4.3"/><line x1="0.75" y1="4.3" x2="5.25" y2="1.7"/></g></svg> <i>p</i> = 0.0001; <span class="fsup">[b]</span> Adjusted for age, gender and BMI. Hypertension defined as</div>
<div class="t" style="left:36.50px;top:328.20px;width:604.50px;text-align:justify;font-size:11px;font-weight:normal;font-style:normal;text-align-last:justify;">average systolic blood pressure &gt;139 mmHg or average diastolic blood pressure &gt;89 mmHg or taking antihypertensive medications;</div>
<div class="t" style="left:36.50px;top:347.50px;width:604.50px;text-align:justify;font-size:11px;font-weight:normal;font-style:normal;text-align-last:justify;"><span class="fsym">&#8224;</span> <i>p</i> = 0.0001; <span class="fsup">[c]</span> Adjusted for age, sex, ethnicity, education, income, physical activity, television watching, sleep habits, alcohol use, and</div>
<div class="t" style="left:36.50px;top:366.60px;width:604.50px;text-align:justify;font-size:11px;font-weight:normal;font-style:normal;text-align-last:justify;">BMI. Body mass index (BMI) for non-vegetarians <span class="ref">referent</span> group was 28.8 &plusmn; 6.3; <span class="fsym">&#8225;</span> <i>p</i> = 0.0001; <span class="fsup">[d]</span> Adjusted for age, gender, BMI,</div>
<div class="t" style="left:36.50px;top:385.90px;width:604.50px;text-align:justify;font-size:11px;font-weight:normal;font-style:normal;text-align-last:justify;">lifestyle, sleep habits, physical activity, alcohol use, ethnicity, income, and education. Type-1 diabetes were excluded; <span class="fsym"><svg width="5" height="5" viewBox="0 0 10 10" style="vertical-align:0px"><path d="M5 0 C6.5 2 10 4 10 6.2 C10 8 8 8.6 6 7.4 L7 10 L3 10 L4 7.4 C2 8.6 0 8 0 6.2 C0 4 3.5 2 5 0Z" fill="#111"/></svg></span> <i>p</i> &lt; 0.05,</div>
<div class="t" style="left:36.50px;top:405.00px;width:604.50px;text-align:left;font-size:11px;font-weight:normal;font-style:normal;">statistically significant.</div>
</body></html>
